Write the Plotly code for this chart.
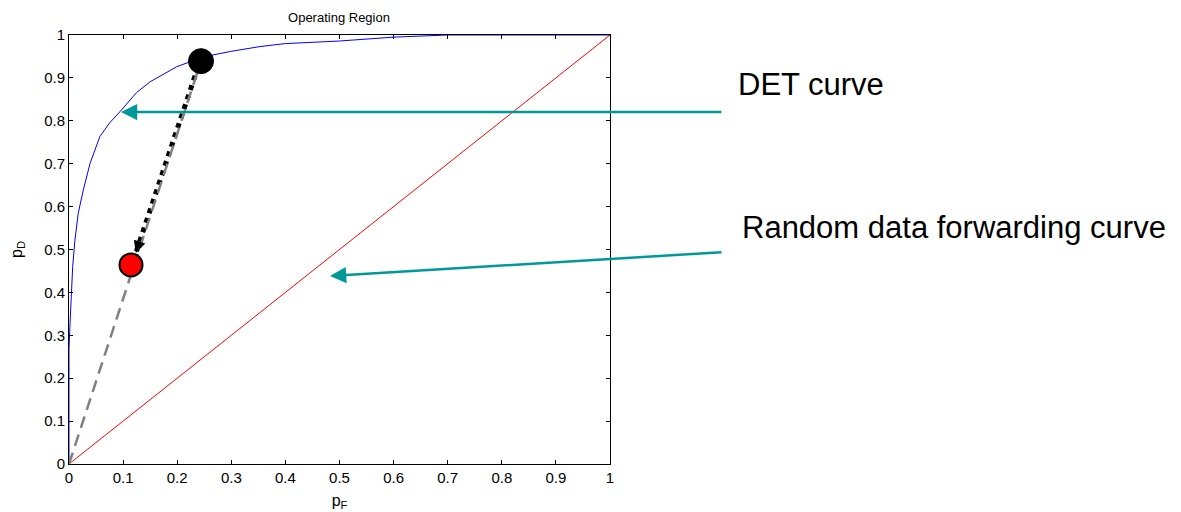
import plotly.graph_objects as go

# DET curve (pF, pD)
det_pf = [0, 0, 0.002, 0.0037, 0.0068, 0.011, 0.017, 0.0265, 0.039, 0.057, 0.075, 0.094,
          0.125, 0.15, 0.199, 0.248, 0.3, 0.353, 0.4, 0.5, 0.6, 0.7, 1.0]
det_pd = [0, 0.27, 0.33, 0.382, 0.46, 0.522, 0.584, 0.639, 0.701, 0.763, 0.795, 0.821,
          0.866, 0.891, 0.926, 0.949, 0.962, 0.973, 0.98, 0.986, 0.995, 1.0, 1.0]

# Random data forwarding curve
rand_pf = [0, 1]
rand_pd = [0, 1]

# Operating points
op_black = (0.244, 0.939)
op_red = (0.1146, 0.464)
move_start = (0.233, 0.905)
move_end = (0.1235, 0.492)

ticks = [0, 0.1, 0.2, 0.3, 0.4, 0.5, 0.6, 0.7, 0.8, 0.9, 1]
tick_text = ["0", "0.1", "0.2", "0.3", "0.4", "0.5", "0.6", "0.7", "0.8", "0.9", "1"]

teal = "#009999"
FONT = "Arial, Liberation Sans"

fig = go.Figure()
fig.add_trace(go.Scatter(x=rand_pf, y=rand_pd, mode="lines",
                         line=dict(color="red", width=1), showlegend=False))
fig.add_trace(go.Scatter(x=det_pf, y=det_pd, mode="lines",
                         line=dict(color="blue", width=1), showlegend=False))
fig.add_trace(go.Scatter(x=[move_start[0], move_end[0]], y=[move_start[1], move_end[1]],
                         mode="lines", line=dict(color="black", width=5, dash="dot"),
                         showlegend=False))
fig.add_trace(go.Scatter(x=[0, op_black[0]], y=[0, op_black[1]], mode="lines",
                         line=dict(color="#808080", width=2.5, dash="12px,7px"),
                         showlegend=False))
fig.add_trace(go.Scatter(x=[op_black[0]], y=[op_black[1]], mode="markers",
                         marker=dict(color="black", size=25, line=dict(color="black", width=1)),
                         showlegend=False))
fig.add_trace(go.Scatter(x=[op_red[0]], y=[op_red[1]], mode="markers",
                         marker=dict(color="red", size=23, line=dict(color="black", width=2)),
                         showlegend=False))

# small arrowhead at end of the dotted move
dx = move_end[0] - move_start[0]
dy = move_end[1] - move_start[1]
fig.add_annotation(x=move_end[0], y=move_end[1],
                   ax=move_end[0] - 0.06 * dx, ay=move_end[1] - 0.06 * dy,
                   axref="x", ayref="y", xref="x", yref="y",
                   showarrow=True, arrowhead=2, arrowsize=1.2, arrowwidth=2,
                   arrowcolor="black", text="")

# teal callout arrows
fig.add_annotation(x=0.0961, y=0.8205, ax=602, ay=0, xref="x", yref="y",
                   showarrow=True, arrowhead=2, arrowsize=1.3, arrowwidth=2.5,
                   arrowcolor=teal, text="")
fig.add_annotation(x=0.4824, y=0.438, ax=393, ay=-24, xref="x", yref="y",
                   showarrow=True, arrowhead=2, arrowsize=1.3, arrowwidth=2.5,
                   arrowcolor=teal, text="")

fig.add_annotation(text="DET curve", xref="paper", yref="paper",
                   x=(736 - 69) / 541, y=(464 - 84) / 429, xanchor="left", yanchor="middle",
                   showarrow=False, font=dict(family=FONT, size=31, color="black"))
fig.add_annotation(text="Random data forwarding curve", xref="paper", yref="paper",
                   x=(740 - 69) / 541, y=(464 - 227) / 429, xanchor="left", yanchor="middle",
                   showarrow=False, font=dict(family=FONT, size=31, color="black"))

axis_common = dict(range=[0, 1], tickvals=ticks, ticktext=tick_text, ticks="inside",
                   ticklen=4, tickcolor="black", showline=True, linecolor="black",
                   linewidth=1, mirror="ticks", showgrid=False, zeroline=False,
                   automargin=False,
                   tickfont=dict(family=FONT, size=15, color="black"))

fig.update_xaxes(**axis_common,
                 title=dict(text="p<sub>F</sub>", standoff=9,
                            font=dict(family=FONT, size=16, color="black")))
fig.update_yaxes(**axis_common,
                 title=dict(text="p<sub>D</sub>", standoff=17,
                            font=dict(family=FONT, size=16, color="black")))

fig.update_layout(
    width=1181, height=512,
    margin=dict(l=69, r=571, t=35, b=48),
    plot_bgcolor="white", paper_bgcolor="white",
    title=dict(text="Operating Region", x=339 / 1181, xanchor="center",
               y=1 - 17 / 512, yanchor="middle",
               font=dict(family=FONT, size=13, color="black")),
)

fig.write_html("out.html")
